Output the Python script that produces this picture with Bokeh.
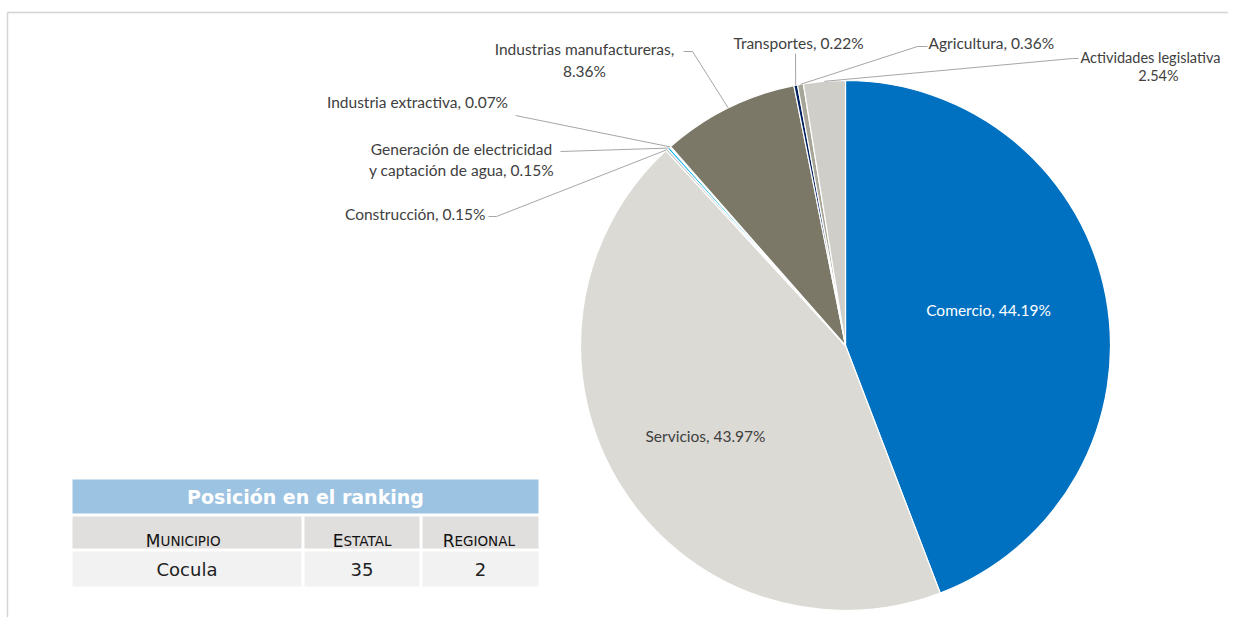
import math
from bokeh.plotting import figure
from bokeh.models import Range1d
from bokeh.core.properties import value
from bokeh.embed import file_html
from bokeh.resources import INLINE

# ---------------- data ----------------
sectors = ["Comercio", "Servicios", "Construcción",
           "Generación de electricidad y captación de agua",
           "Industria extractiva", "Industrias manufactureras",
           "Transportes", "Agricultura", "Actividades legislativa"]
shares = [44.19, 43.97, 0.15, 0.15, 0.07, 8.36, 0.22, 0.36, 2.54]
label_lines = [
    ["Comercio, 44.19%"],
    ["Servicios, 43.97%"],
    ["Construcción, 0.15%"],
    ["Generación de electricidad", "y captación de agua, 0.15%"],
    ["Industria extractiva, 0.07%"],
    ["Industrias manufactureras,", "8.36%"],
    ["Transportes, 0.22%"],
    ["Agricultura, 0.36%"],
    ["Actividades legislativa", "2.54%"],
]
table_title = "Posición en el ranking"
table_headers = ["Municipio", "Estatal", "Regional"]
table_values = ["Cocula", "35", "2"]

# ---------------- style / layout ----------------
colors = ["#0070C0", "#DCDAD5", "#C8C8C8", "#00B0F0", "#5A5A5A",
          "#7B7868", "#002060", "#A6A598", "#D0CEC9"]
W, H = 1228, 617
def X(sx): return sx
def Y(sy): return H - sy

cx, cy, R = X(845), Y(345), 265
FONT = "Lato"
TXT = "#404040"
FS = "15.5px"

# label layout: ([(x, align, y) per line], font size, text color, leader elbow points)
label_layout = [
    ([(988, "center", 309)], FS, "white", None),
    ([(705, "center", 435)], FS, TXT, None),
    ([(485, "right", 213)], FS, TXT, [(488, 216), (496, 216)]),
    ([(461, "center", 148), (461, "center", 169)], FS, TXT, [(560, 151)]),
    ([(417, "center", 101)], FS, TXT, [(515, 115)]),
    ([(584, "center", 48), (584, "center", 70)], FS, TXT, [(683, 51), (692, 51)]),
    ([(798, "center", 42)], FS, TXT, [(795, 53)]),
    ([(928, "left", 42)], FS, TXT, [(927, 46), (917, 46)]),
    ([(1080, "left", 57), (1158, "center", 75)], "14.5px", TXT, [(1078, 58), (1072, 58)]),
]

p = figure(width=W, height=H, x_range=Range1d(0, W), y_range=Range1d(0, H),
           output_backend="svg", toolbar_location=None, min_border=0)
p.axis.visible = False
p.grid.visible = False
p.outline_line_color = None
p.background_fill_color = "white"

# frame (left and top edges visible in the crop)
p.line([7, 7, W], [0, Y(12), Y(12)], line_color="#D4D4D4", line_width=1.5)

# ---------------- pie ----------------
total = sum(shares)
starts, ends, mids = [], [], []
acc = 0.0
for s in shares:
    a0 = math.pi / 2 - 2 * math.pi * (acc + s) / total
    a1 = math.pi / 2 - 2 * math.pi * acc / total
    starts.append(a0)
    ends.append(a1)
    mids.append((a0 + a1) / 2)
    acc += s

p.wedge(x=[cx] * len(shares), y=[cy] * len(shares), radius=R,
        start_angle=starts, end_angle=ends, direction="anticlock",
        fill_color=colors, line_color="white", line_width=1.2)

# labels + leader lines
for i, lines in enumerate(label_lines):
    pos, fs, col, elbow = label_layout[i]
    if elbow:
        px = cx + R * math.cos(mids[i])
        py = cy + R * math.sin(mids[i])
        xs = [X(e[0]) for e in elbow] + [px]
        yy = [Y(e[1]) for e in elbow] + [py]
        p.line(xs, yy, line_color="#A6A6A6", line_width=1)
    for t, (lx, align, sy) in zip(lines, pos):
        p.text(x=[X(lx)], y=[Y(sy)], text=[t], text_align=align,
               text_baseline="middle", text_font=value(FONT),
               text_font_size=fs, text_color=col)

# ---------------- ranking table ----------------
TF = "DejaVu Sans"
tx0, tx1 = 72, 538
col_edges = [(72, 301), (304, 419), (422, 538)]
p.quad(left=[X(tx0)], right=[X(tx1)], top=[Y(479)], bottom=[Y(513)],
       fill_color="#9DC3E2", line_color=None)
p.text(x=[X((tx0 + tx1) / 2)], y=[Y(496)], text=[table_title],
       text_align="center", text_baseline="middle",
       text_font=value(TF), text_font_style="bold",
       text_font_size="19px", text_color="white")

p.quad(left=[X(a) for a, b in col_edges], right=[X(b) for a, b in col_edges],
       top=[Y(516)] * 3, bottom=[Y(548)] * 3, fill_color="#E1DFDD", line_color=None)
p.quad(left=[X(a) for a, b in col_edges], right=[X(b) for a, b in col_edges],
       top=[Y(551)] * 3, bottom=[Y(586)] * 3, fill_color="#F2F2F2", line_color=None)

# small caps headers
split_x = [160, 343, 454]
for (a, b), h, sx in zip(col_edges, table_headers, split_x):
    p.text(x=[X(sx)], y=[Y(540)], text=[h[0].upper()], text_align="right",
           text_baseline="alphabetic", text_font=value(TF),
           text_font_size="17px", text_color="#111111")
    p.text(x=[X(sx)], y=[Y(540)], text=[h[1:].upper()], text_align="left",
           text_baseline="alphabetic", text_font=value(TF),
           text_font_size="13.5px", text_color="#111111")

for (a, b), v in zip(col_edges, table_values):
    p.text(x=[X((a + b) / 2)], y=[Y(569)], text=[v], text_align="center",
           text_baseline="middle", text_font=value(TF),
           text_font_size="18px", text_color="#222222")

open("out.html", "w").write(file_html(p, INLINE))
